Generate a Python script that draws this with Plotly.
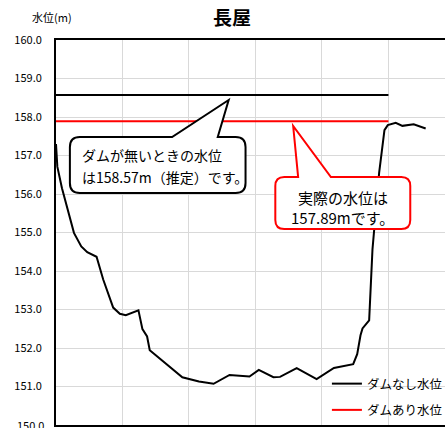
import plotly.graph_objects as go

# ---- data ----
curve_x = [0.0, 0.02, 0.09, 0.16, 0.27, 0.38, 0.47, 0.61, 0.71, 0.86,
           0.96, 1.05, 1.24, 1.30, 1.37, 1.41, 1.90, 2.15, 2.37, 2.61,
           2.91, 3.05, 3.27, 3.37, 3.62, 3.92, 4.18, 4.47, 4.53, 4.58,
           4.61, 4.71, 4.76, 4.86, 4.94, 4.99, 5.11, 5.21, 5.38, 5.56]
curve_y = [157.3, 156.71, 156.15, 155.68, 154.99, 154.64, 154.49, 154.37, 153.78, 153.05,
           152.89, 152.85, 152.98, 152.49, 152.30, 151.94, 151.24, 151.13, 151.07, 151.30,
           151.26, 151.43, 151.24, 151.25, 151.48, 151.19, 151.48, 151.58, 151.84, 152.33,
           152.51, 152.72, 154.56, 156.55, 157.66, 157.79, 157.85, 157.77, 157.81, 157.70]
level_x = [0, 5]
level_nodam = 158.57
level_dam = 157.89
series_names = ["ダムなし水位", "ダムあり水位"]
title_text = "長屋"
y_label = "水位(m)"
y_ticks = [150, 151, 152, 153, 154, 155, 156, 157, 158, 159, 160]
callout1 = ["ダムが無いときの水位", "は158.57m（推定）です。"]
callout2 = ["実際の水位は", "157.89mです。"]

# ---- layout geometry ----
W, H = 448, 428
ML, MR, MT, MB = 56, 0, 40, 3
PW, PH = W - ML - MR, H - MT - MB
XMAX = PW / 67.0
Y0, Y1 = 150, 160

def px(xp, yp):
    return ((xp - ML) / PW * XMAX, Y1 - (yp - MT) / PH * (Y1 - Y0))

def callout_path(x0, y0, x1, y1, r, b0, b1, tip):
    pts = []
    def P(cmd, *coords):
        s = cmd
        for i in range(0, len(coords), 2):
            dx, dy = px(coords[i], coords[i + 1])
            s += f" {dx:.5f},{dy:.5f}"
        pts.append(s)
    P("M", x0 + r, y0)
    P("L", b0, y0)
    P("L", tip[0], tip[1])
    P("L", b1, y0)
    P("L", x1 - r, y0)
    P("Q", x1, y0, x1, y0 + r)
    P("L", x1, y1 - r)
    P("Q", x1, y1, x1 - r, y1)
    P("L", x0 + r, y1)
    P("Q", x0, y1, x0, y1 - r)
    P("L", x0, y0 + r)
    P("Q", x0, y0, x0 + r, y0)
    return " ".join(pts) + " Z"

FONT = "Noto Sans CJK JP"

fig = go.Figure()
fig.add_trace(go.Scatter(x=curve_x, y=curve_y, mode="lines",
                         line=dict(color="black", width=2), showlegend=False,
                         hoverinfo="skip"))
fig.add_trace(go.Scatter(x=level_x, y=[level_nodam] * 2, mode="lines", name=series_names[0],
                         line=dict(color="black", width=2), legendgroup="a"))
fig.add_trace(go.Scatter(x=level_x, y=[level_dam] * 2, mode="lines", name=series_names[1],
                         line=dict(color="#ff0000", width=2), legendgroup="b"))

shapes = [
    dict(type="path", xref="x", yref="y",
         path=callout_path(70, 137, 247, 193, 10, 173, 219, (230, 100)),
         line=dict(color="black", width=2), fillcolor="white", layer="above"),
    dict(type="path", xref="x", yref="y",
         path=callout_path(277, 177, 413, 229, 9, 300, 333, (295, 126)),
         line=dict(color="#ff0000", width=2), fillcolor="white", layer="above"),
]

annotations = []
for t, yy in zip(callout1, [155, 177]):
    ax, ay = px(80, yy)
    annotations.append(dict(x=ax, y=ay, xref="x", yref="y", text=t, showarrow=False,
                            xanchor="left", yanchor="middle",
                            font=dict(family=FONT, size=14, color="black")))
for t, yy in zip(callout2, [197, 217]):
    ax, ay = px(345, yy)
    annotations.append(dict(x=ax, y=ay, xref="x", yref="y", text=t, showarrow=False,
                            xanchor="center", yanchor="middle",
                            font=dict(family=FONT, size=15, color="black")))
annotations.append(dict(x=(52 - ML) / PW, y=(H - MB - 17.5) / PH, xref="paper", yref="paper",
                        text=y_label, showarrow=False, xanchor="center", yanchor="middle",
                        font=dict(family=FONT, size=11, color="black")))
# bottom tick label (cut by the page edge, as in the original)
annotations.append(dict(x=-10 / PW, y=y_ticks[0], xref="paper", yref="y",
                        text=f"{y_ticks[0]:.1f}", showarrow=False,
                        xanchor="right", yanchor="middle",
                        font=dict(family=FONT, size=11, color="black")))

fig.update_layout(
    width=W, height=H,
    margin=dict(l=ML, r=MR, t=MT, b=MB, pad=0),
    paper_bgcolor="white", plot_bgcolor="white",
    title=dict(text=f"<b>{title_text}</b>", x=232 / W, xanchor="center",
               y=1 - 18 / H, yanchor="middle", xref="container", yref="container",
               font=dict(family=FONT, size=19, color="black")),
    xaxis=dict(range=[0, XMAX], dtick=1, tick0=0, showticklabels=False,
               showgrid=True, gridcolor="#d9d9d9", gridwidth=1,
               showline=True, linecolor="black", linewidth=2, mirror=True,
               zeroline=False, ticks=""),
    yaxis=dict(range=[Y0, Y1], tickmode="array", tickvals=y_ticks[1:],
               ticktext=[f"{v:.1f}" for v in y_ticks[1:]],
               showgrid=True, gridcolor="#d9d9d9", gridwidth=1,
               showline=True, linecolor="black", linewidth=2,
               zeroline=False, ticks="", ticklabelstandoff=10,
               tickfont=dict(family=FONT, size=11, color="black")),
    legend=dict(x=(329 - ML) / PW, y=(H - MB - 369) / PH, xanchor="left", yanchor="top",
                bgcolor="rgba(0,0,0,0)", tracegroupgap=7,
                font=dict(family=FONT, size=12.5, color="black")),
    shapes=shapes,
    annotations=annotations,
    showlegend=True,
)

fig.write_html("out.html", config={"displayModeBar": False},
               post_script="document.body.style.margin='0';document.body.style.overflow='hidden';")
